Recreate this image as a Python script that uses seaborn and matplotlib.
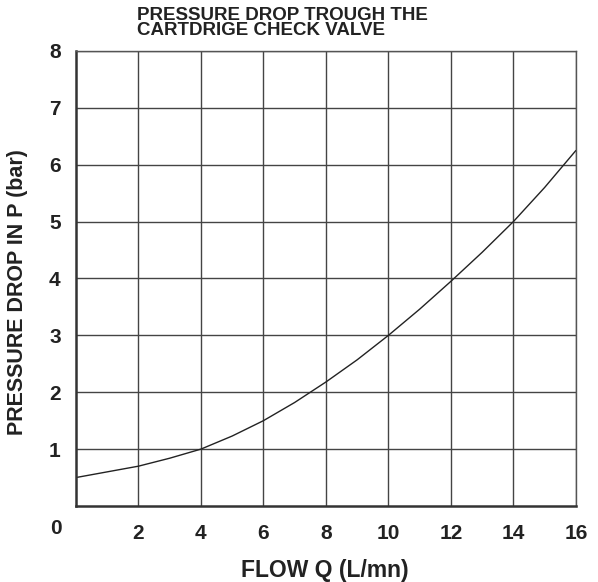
import numpy as np
import pandas as pd
import matplotlib
matplotlib.use('Agg')
import matplotlib.pyplot as plt
import seaborn as sns

# values
flow = [0, 1, 2, 3, 4, 5, 6, 7, 8, 9, 10, 11, 12, 13, 14, 15, 16]
pressure = [0.5, 0.6, 0.7, 0.84, 1.0, 1.23, 1.5, 1.82, 2.18, 2.57, 3.0, 3.46, 3.95, 4.46, 5.0, 5.6, 6.25]
x_ticks = [2, 4, 6, 8, 10, 12, 14, 16]
y_ticks = [1, 2, 3, 4, 5, 6, 7, 8]

df = pd.DataFrame({'flow': flow, 'pressure': pressure})

sns.set_style('white')
plt.rcParams['font.family'] = ['Liberation Sans', 'DejaVu Sans']
plt.rcParams['font.weight'] = 'bold'

fig = plt.figure(figsize=(5.98, 5.82), dpi=100)
ax = fig.add_axes([0.127, 0.1306, 0.836, 0.7818])

sns.lineplot(data=df, x='flow', y='pressure', ax=ax, color='#222222', linewidth=1.0)

ax.set_xlim(0, 16)
ax.set_ylim(0, 8)
ax.set_xticks(x_ticks)
ax.set_yticks(y_ticks)
ax.set_xticklabels([str(t) for t in x_ticks], fontsize=15, fontweight='bold', color='#222222')
ax.set_yticklabels([str(t) for t in y_ticks], fontsize=15, fontweight='bold', color='#222222')
ax.tick_params(axis='x', length=0, pad=13)
ax.tick_params(axis='y', length=0, pad=11)

ax.grid(True, color='#444444', linewidth=1.0)
ax.set_axisbelow(True)
for side in ['top', 'right']:
    ax.spines[side].set_color('#555555')
    ax.spines[side].set_linewidth(1.0)
for side in ['left', 'bottom']:
    ax.spines[side].set_color('#333333')
    ax.spines[side].set_linewidth(1.8)

# shared corner label
fig.text(56 / 598, 1 - 528 / 582, '0', fontsize=15, fontweight='bold', color='#222222',
         ha='center', va='center')

ax.set_xlabel('')
ax.set_ylabel('')
fig.text(325 / 598, 1 - 570 / 582, 'FLOW Q (L/mn)', fontsize=16.5, fontweight='bold',
         color='#222222', ha='center', va='center')
fig.text(18 / 598, 1 - 292 / 582, 'PRESSURE DROP IN P (bar)', fontsize=15.5, fontweight='bold',
         color='#222222', ha='center', va='center', rotation=90)

fig.text(137 / 598, 1 - 7 / 582, 'PRESSURE DROP TROUGH THE\nCARTDRIGE CHECK VALVE',
         fontsize=13.5, fontweight='bold', color='#222222', ha='left', va='top', linespacing=0.85)

plt.savefig('out.png', dpi=100)
